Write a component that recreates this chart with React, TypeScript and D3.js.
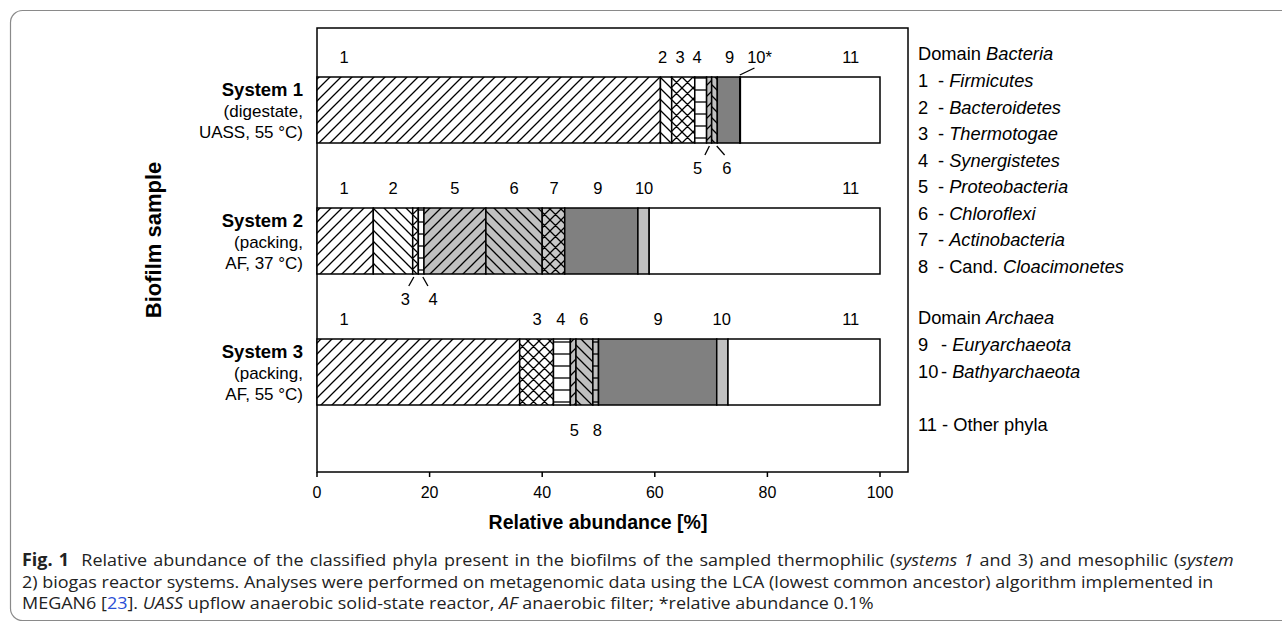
import React, { useLayoutEffect, useRef, useState } from "react";
import * as d3 from "d3";

const systems = ["System 1", "System 2", "System 3"];
const systemSubtitles = [
  ["(digestate,", "UASS, 55 °C)"],
  ["(packing,", "AF, 37 °C)"],
  ["(packing,", "AF, 55 °C)"],
];
const phylumIds = ["1", "2", "3", "4", "5", "6", "7", "8", "9", "10", "11"];
const system1Values = [61, 2, 4.1, 2.1, 0.9, 1.0, 0, 0, 4.0, 0.1, 24.8];
const system2Values = [10, 7, 1, 1, 11, 10, 4, 0, 13, 2, 41];
const system3Values = [36, 0, 6, 3, 1, 3, 0, 1, 21, 2, 27];
const xTicks = [0, 20, 40, 60, 80, 100];

// annotation labels: [text, x in %]
const labelsAbove = [
  [["1", 4.8], ["2", 61.4], ["3", 64.5], ["4", 67.5], ["9", 73.3], ["10*", 78.6], ["11", 94.8]],
  [["1", 4.8], ["2", 13.5], ["5", 24.5], ["6", 35.0], ["7", 42.1], ["9", 49.9], ["10", 58.1], ["11", 94.8]],
  [["1", 4.8], ["3", 39.1], ["4", 43.3], ["6", 47.4], ["9", 60.6], ["10", 71.9], ["11", 94.8]],
];
const labelsBelow = [
  [["5", 67.6], ["6", 72.8]],
  [["3", 15.7], ["4", 20.6]],
  [["5", 45.7], ["8", 49.8]],
];
const leaders = [
  { sys: 0, x0: 75.1, x1: 77.7, side: "above" },
  { sys: 0, x0: 69.7, x1: 68.9, side: "below" },
  { sys: 0, x0: 71.0, x1: 72.4, side: "below" },
  { sys: 1, x0: 17.2, x1: 16.3, side: "below" },
  { sys: 1, x0: 18.8, x1: 19.7, side: "below" },
];

const legendBacteria = ["Firmicutes", "Bacteroidetes", "Thermotogae", "Synergistetes", "Proteobacteria", "Chloroflexi", "Actinobacteria", "Cloacimonetes"];
const legendArchaea = ["Euryarchaeota", "Bathyarchaeota"];

const fills = [
  "url(#p1)", "url(#p2)", "url(#p3)", "url(#p4)", "url(#p5)", "url(#p6)",
  "url(#p7)", "url(#p8)", "#808080", "#c0c0c0", "#ffffff",
];

// caption lines: [text, style] segments; style: n normal, b bold, i italic, l link
const captionLines: [string, string][][] = [
  [["Fig. 1", "b"], ["  Relative abundance of the classified phyla present in the biofilms of the sampled thermophilic (", "n"], ["systems 1", "i"], [" and 3) and mesophilic (", "n"], ["system", "i"]],
  [["2) biogas reactor systems. Analyses were performed on metagenomic data using the LCA (lowest common ancestor) algorithm implemented in", "n"]],
  [["MEGAN6 [", "n"], ["23", "l"], ["]. ", "n"], ["UASS", "i"], [" upflow anaerobic solid-state reactor, ", "n"], ["AF", "i"], [" anaerobic filter; *relative abundance 0.1%", "n"]],
];
const captionLine2Width = 1192;
const captionWordSpacing = [1.4, 0, 0];

const FONT = "'Liberation Sans', Arial, sans-serif";
const CAP_FONT = "'Open Sans', sans-serif";

function Hatch({ id, bg, kind, p }: { id: string; bg: string; kind: string; p: number }) {
  const fwd = `M0,${p} L${p},0 M${-p / 2},${p / 2} L${p / 2},${-p / 2} M${p / 2},${1.5 * p} L${1.5 * p},${p / 2}`;
  const back = `M0,0 L${p},${p} M${-p / 2},${p / 2} L${p / 2},${1.5 * p} M${p / 2},${-p / 2} L${1.5 * p},${p / 2}`;
  let d = "";
  if (kind === "fwd") d = fwd;
  else if (kind === "back") d = back;
  else if (kind === "cross") d = fwd + " " + back;
  else if (kind === "horiz") d = `M0,${p / 2} L${p},${p / 2}`;
  return (
    <pattern id={id} patternUnits="userSpaceOnUse" width={p} height={p}>
      <rect width={p} height={p} fill={bg} />
      <path d={d} stroke="#000" strokeWidth={1.3} fill="none" />
    </pattern>
  );
}

export default function App() {
  const W = 1282, H = 624;
  const x = d3.scaleLinear().domain([0, 100]).range([317, 880]);
  const yc = d3.scalePoint<string>().domain(systems).range([110, 372]);
  const barH = 66;
  const boxTop = 28, boxBottom = 472, boxRight = 908;
  const allValues = [system1Values, system2Values, system3Values];

  const line2Ref = useRef<SVGTextElement>(null);
  const [capScale, setCapScale] = useState(1);
  useLayoutEffect(() => {
    const el = line2Ref.current;
    if (el) {
      const w = el.getBBox().width;
      if (w > 0) setCapScale(captionLine2Width / w);
    }
  }, []);
  const capX = 22;
  const capT = `translate(${capX},0) scale(${capScale},1) translate(${-capX},0)`;
  const capY = [566, 588, 609];

  return (
    <svg width={W} height={H} style={{ position: "absolute", left: 0, top: 0 }} fontFamily={FONT}>
      <defs>
        <Hatch id="p1" bg="#fff" kind="fwd" p={11} />
        <Hatch id="p2" bg="#fff" kind="back" p={11} />
        <Hatch id="p3" bg="#fff" kind="cross" p={11} />
        <Hatch id="p4" bg="#fff" kind="horiz" p={12} />
        <Hatch id="p5" bg="#c0c0c0" kind="fwd" p={11} />
        <Hatch id="p6" bg="#c0c0c0" kind="back" p={11} />
        <Hatch id="p7" bg="#c8c8c8" kind="cross" p={11} />
        <Hatch id="p8" bg="#c0c0c0" kind="horiz" p={12} />
      </defs>
      <rect x={0} y={0} width={W} height={H} fill="#fff" />
      <rect x={10.5} y={10.5} width={1300} height={610} rx={12} fill="none" stroke="#8a8a8a" strokeWidth={1.2} />

      <rect x={x(0)} y={boxTop} width={boxRight - x(0)} height={boxBottom - boxTop} fill="none" stroke="#000" strokeWidth={1.5} />

      {systems.map((s, si) => {
        const vals = allValues[si];
        const ends = Array.from(d3.cumsum(vals));
        const top = (yc(s) as number) - barH / 2;
        return (
          <g key={s}>
            {vals.map((v, i) => {
              if (v <= 0) return null;
              const start = i === 0 ? 0 : ends[i - 1];
              const end = i === vals.length - 1 ? 100 : ends[i];
              return (
                <rect key={phylumIds[i]} x={x(start)} y={top} width={x(end) - x(start)} height={barH}
                  fill={fills[i]} stroke="#000" strokeWidth={1.5} />
              );
            })}
            {labelsAbove[si].map(([t, p]) => (
              <text key={"a" + t} x={x(p as number)} y={top - 14} textAnchor="middle" fontSize={16.5}>{t}</text>
            ))}
            {labelsBelow[si].map(([t, p]) => (
              <text key={"b" + t} x={x(p as number)} y={top + barH + 31} textAnchor="middle" fontSize={16.5}>{t}</text>
            ))}
            <text x={303} y={(yc(s) as number) - 14} textAnchor="end" fontSize={17}>
              <tspan fontWeight="bold" fontSize={18.5}>{s}</tspan>
              <tspan x={303} dy={21}>{systemSubtitles[si][0]}</tspan>
              <tspan x={303} dy={21}>{systemSubtitles[si][1]}</tspan>
            </text>
          </g>
        );
      })}

      {leaders.map((l, i) => {
        const top = (yc(systems[l.sys]) as number) - barH / 2;
        const y0 = l.side === "above" ? top - 2 : top + barH + 3;
        const y1 = l.side === "above" ? top - 9 : top + barH + 12;
        return <line key={i} x1={x(l.x0)} y1={y0} x2={x(l.x1)} y2={y1} stroke="#000" strokeWidth={1.3} />;
      })}

      {xTicks.map((t) => (
        <g key={t}>
          <line x1={x(t)} x2={x(t)} y1={boxBottom} y2={boxBottom + 5} stroke="#000" strokeWidth={1.5} />
          <text x={x(t)} y={498} textAnchor="middle" fontSize={16}>{t}</text>
        </g>
      ))}
      <text x={598} y={529} textAnchor="middle" fontSize={19.5} fontWeight="bold">Relative abundance [%]</text>
      <text transform="translate(161,240) rotate(-90)" textAnchor="middle" fontSize={22} fontWeight="bold">Biofilm sample</text>

      <g fontSize={18.3}>
        <text x={918} y={60}>Domain <tspan fontStyle="italic">Bacteria</tspan></text>
        {legendBacteria.map((n, i) => (
          <text key={n} y={87 + i * 26.5}>
            <tspan x={918}>{i + 1}</tspan>
            <tspan x={938}>{"- "}{i === 7 ? "Cand. " : ""}<tspan fontStyle="italic">{n}</tspan></tspan>
          </text>
        ))}
        <text x={918} y={324}>Domain <tspan fontStyle="italic">Archaea</tspan></text>
        {legendArchaea.map((n, i) => (
          <text key={n} y={351 + i * 26.5}>
            <tspan x={918}>{i + 9}</tspan>
            <tspan x={941}>{"- "}<tspan fontStyle="italic">{n}</tspan></tspan>
          </text>
        ))}
        <text x={918} y={431}>11 - Other phyla</text>
      </g>

      <g fontFamily={CAP_FONT} fontSize={17} fill="#222">
        {captionLines.map((segs, li) => (
          <text key={li} ref={li === 1 ? line2Ref : undefined} x={capX} y={capY[li]} transform={capT}
            wordSpacing={captionWordSpacing[li]} style={{ whiteSpace: "pre" }}>
            {segs.map(([t, st], k) => (
              <tspan key={k}
                fontWeight={st === "b" ? "bold" : undefined}
                fontStyle={st === "i" ? "italic" : undefined}
                fill={st === "l" ? "#2a4fd6" : undefined}>{t}</tspan>
            ))}
          </text>
        ))}
      </g>
    </svg>
  );
}
